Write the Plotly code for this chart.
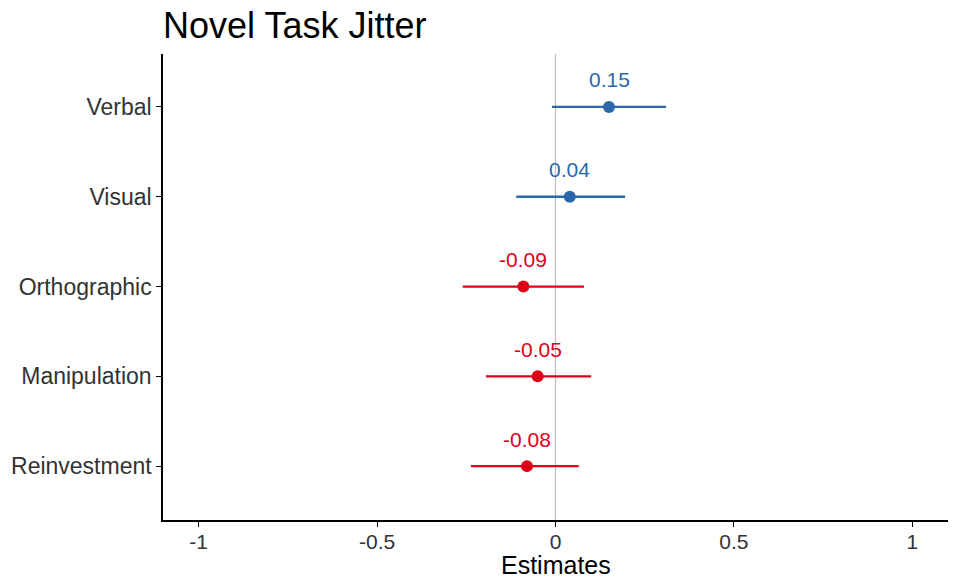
import plotly.graph_objects as go

terms = ["Verbal", "Visual", "Orthographic", "Manipulation", "Reinvestment"]
estimates = [0.15, 0.04, -0.09, -0.05, -0.08]
ci_low = [-0.01, -0.11, -0.26, -0.195, -0.237]
ci_high = [0.31, 0.195, 0.08, 0.10, 0.065]
labels = ["0.15", "0.04", "-0.09", "-0.05", "-0.08"]
colors = ["#2b67ab", "#2b67ab", "#de0019", "#de0019", "#de0019"]
ypos = [5, 4, 3, 2, 1]

FONT = "Liberation Sans, Arial"

fig = go.Figure()
# zero reference line
fig.add_shape(type="line", x0=0, x1=0, y0=0, y1=1, yref="paper", xref="x",
              line=dict(color="#bdbdbd", width=1.2), layer="below")

for t, e, lo, hi, c, y, lab in zip(terms, estimates, ci_low, ci_high, colors, ypos, labels):
    fig.add_trace(go.Scatter(x=[lo, hi], y=[y, y], mode="lines",
                             line=dict(color=c, width=2.3), showlegend=False, hoverinfo="skip"))
    fig.add_trace(go.Scatter(x=[e], y=[y], mode="markers",
                             marker=dict(color=c, size=12), showlegend=False, name=t))
    fig.add_annotation(x=e, y=y, text=lab, showarrow=False, yshift=27,
                       font=dict(family=FONT, size=21, color=c))

# x-axis title as annotation for precise placement
fig.add_annotation(x=0.5, xref="paper", y=0, yref="paper", yanchor="middle", yshift=-45,
                   text="Estimates", showarrow=False, borderpad=0,
                   font=dict(family=FONT, size=25, color="black"))

fig.update_layout(
    width=960, height=580,
    margin=dict(l=163, r=12, t=54, b=60),
    plot_bgcolor="white", paper_bgcolor="white",
    title=dict(text="Novel Task Jitter", x=163/960, xanchor="left", y=1-25/580, yanchor="middle",
               font=dict(family=FONT, size=36, color="black")),
    font=dict(family=FONT, color="#333333"),
)
fig.update_xaxes(range=[-1.1, 1.1], tickvals=[-1, -0.5, 0, 0.5, 1],
                 ticktext=["-1", "-0.5", "0", "0.5", "1"], automargin=False,
                 showgrid=False, zeroline=False, showline=True, linecolor="black", linewidth=1.5,
                 ticks="outside", ticklen=5, tickcolor="black", tickwidth=1.2,
                 ticklabelstandoff=-3,
                 tickfont=dict(size=21, color="#333333"))
fig.update_yaxes(range=[0.4, 5.59], tickvals=ypos, ticktext=terms, automargin=False,
                 showgrid=False, zeroline=False, showline=True, linecolor="black", linewidth=1.5,
                 ticks="outside", ticklen=5, tickcolor="black", tickwidth=1.2,
                 tickfont=dict(size=23, color="#333333"))

fig.write_html("out.html")
